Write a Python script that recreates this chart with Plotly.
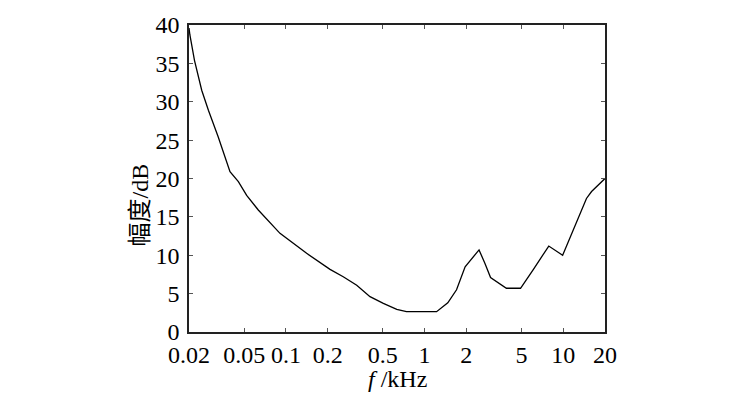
import plotly.graph_objects as go

freq_khz = [0.02, 0.0203, 0.0219, 0.0247, 0.0276, 0.0325, 0.0395, 0.0454, 0.0521, 0.0632,
            0.0906, 0.141, 0.208, 0.259, 0.324, 0.404, 0.504, 0.63, 0.74, 1.22, 1.47,
            1.70, 1.96, 2.19, 2.47, 2.73, 2.99, 3.89, 4.92, 6.06, 7.86, 9.9, 11.8,
            14.0, 14.7, 16.0, 20.0]
amp_db = [39.6, 38.7, 35.4, 31.5, 28.9, 25.4, 20.9, 19.6, 17.8, 15.9,
          12.85, 10.25, 8.16, 7.2, 6.1, 4.6, 3.74, 2.95, 2.65, 2.65, 3.8,
          5.5, 8.5, 9.6, 10.7, 8.9, 7.1, 5.7, 5.7, 8.1, 11.2, 10.0, 13.3,
          16.3, 17.4, 18.3, 20.0]

x_ticks = [0.02, 0.05, 0.1, 0.2, 0.5, 1, 2, 5, 10, 20]
x_tick_labels = ["0.02", "0.05", "0.1", "0.2", "0.5", "1", "2", "5", "10", "20"]
y_ticks = [0, 5, 10, 15, 20, 25, 30, 35, 40]

x_title = "<i>f</i> /kHz"
y_title = "幅度/dB"

FONT = "'Liberation Serif', 'Times New Roman', 'Noto Sans CJK SC', serif"

fig = go.Figure()
fig.add_trace(go.Scatter(x=freq_khz, y=amp_db, mode="lines",
                         line=dict(color="black", width=1.3), showlegend=False))

axis_common = dict(showgrid=False, zeroline=False, showline=True, linecolor="#222",
                   linewidth=1.5, mirror="ticks", ticks="inside", ticklen=4,
                   tickcolor="#555", tickwidth=1,
                   tickfont=dict(family=FONT, size=24, color="black"))

fig.update_xaxes(type="log", range=[-1.69897, 1.30103], tickvals=x_ticks,
                 ticktext=x_tick_labels, ticklabelstandoff=0, **axis_common)
fig.update_yaxes(range=[0, 40], tickvals=y_ticks, ticklabelstandoff=3, **axis_common)

fig.add_annotation(text=x_title, xref="paper", yref="paper", x=0.5, y=-0.152,
                   xanchor="center", yanchor="middle", showarrow=False,
                   font=dict(family=FONT, size=24, color="black"))
fig.add_annotation(text=y_title, xref="paper", yref="paper", x=-0.118, y=0.415,
                   xanchor="center", yanchor="middle", textangle=-90, showarrow=False,
                   font=dict(family=FONT, size=24, color="black"))

fig.update_layout(width=740, height=400, plot_bgcolor="white", paper_bgcolor="white",
                  margin=dict(l=189, r=135, t=25, b=68))

fig.write_html("out.html")
